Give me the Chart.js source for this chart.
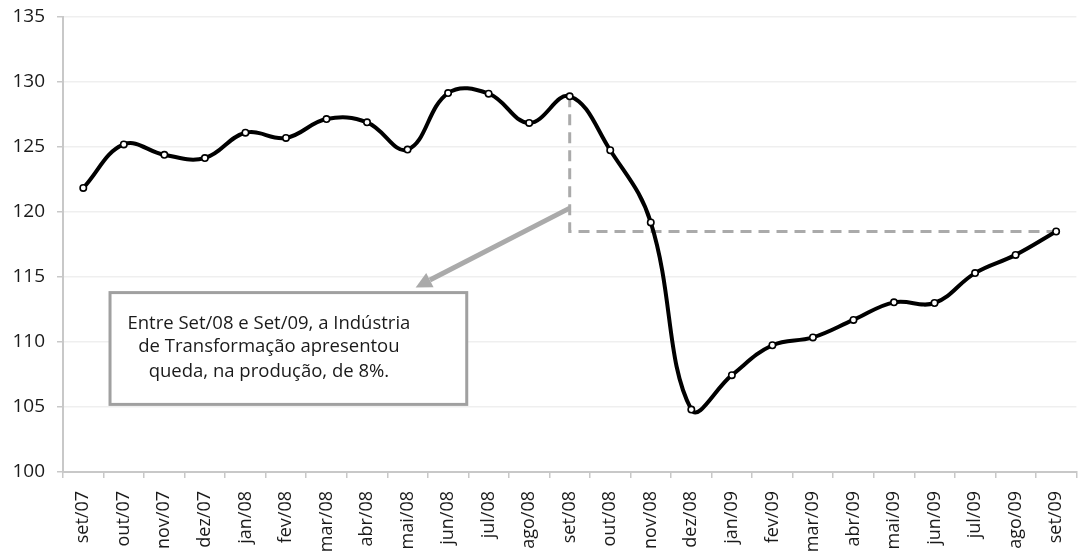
<!DOCTYPE html>
<html>
<head>
<meta charset="utf-8">
<script src="https://cdn.jsdelivr.net/npm/chart.js@4"></script>
<style>
  html, body { margin: 0; padding: 0; background: #fff; overflow: hidden; }
  #wrap { width: 1082px; height: 557px; position: relative; }
</style>
</head>
<body>
<div id="wrap"><canvas id="c"></canvas></div>
<script>
const categories = ['set/07','out/07','nov/07','dez/07','jan/08','fev/08','mar/08','abr/08','mai/08','jun/08','jul/08','ago/08','set/08','out/08','nov/08','dez/08','jan/09','fev/09','mar/09','abr/09','mai/09','jun/09','jul/09','ago/09','set/09'];
const production = [121.85,125.2,124.4,124.15,126.1,125.7,127.15,126.9,124.8,129.15,129.1,126.85,128.9,124.75,119.2,104.8,107.45,109.75,110.35,111.7,113.05,113.0,115.3,116.7,118.5];
const yTicks = [100,105,110,115,120,125,130,135];
const refStart = 'set/08';
const refEnd = 'set/09';
const refHigh = 128.9;
const refLow = 118.5;
const noteLines = ['Entre Set/08 e Set/09, a Indústria', 'de Transformação apresentou', 'queda, na produção, de 8%.'];

const FONT = '"Open Sans", "Noto Sans", sans-serif';

const annotationPlugin = {
  id: 'note',
  afterDatasetsDraw(chart) {
    const ctx = chart.ctx;
    const xs = chart.scales.x, ys = chart.scales.y;
    ctx.save();
    // arrow
    const x1 = xs.getPixelForValue(12), y1 = ys.getPixelForValue(120.3);
    const x2 = xs.getPixelForValue(8.2), y2 = ys.getPixelForValue(114.2);
    const ang = Math.atan2(y2 - y1, x2 - x1);
    const headLen = 16, headW = 8;
    const bx = x2 - Math.cos(ang) * headLen, by = y2 - Math.sin(ang) * headLen;
    ctx.strokeStyle = '#aaaaaa';
    ctx.fillStyle = '#aaaaaa';
    ctx.lineWidth = 5;
    ctx.beginPath();
    ctx.moveTo(x1, y1);
    ctx.lineTo(bx, by);
    ctx.stroke();
    ctx.beginPath();
    ctx.moveTo(x2, y2);
    ctx.lineTo(bx + Math.sin(ang) * headW, by - Math.cos(ang) * headW);
    ctx.lineTo(bx - Math.sin(ang) * headW, by + Math.cos(ang) * headW);
    ctx.closePath();
    ctx.fill();
    // box
    const l = xs.getPixelForValue(0.66), r = xs.getPixelForValue(9.46);
    const t = ys.getPixelForValue(113.8), b = ys.getPixelForValue(105.2);
    ctx.fillStyle = '#ffffff';
    ctx.fillRect(l, t, r - l, b - t);
    ctx.strokeStyle = '#a0a0a0';
    ctx.lineWidth = 3;
    ctx.strokeRect(l, t, r - l, b - t);
    // text
    ctx.fillStyle = '#1a1a1a';
    ctx.font = '18.5px ' + FONT;
    ctx.textAlign = 'center';
    ctx.textBaseline = 'middle';
    const tx = xs.getPixelForValue(4.58);
    const lineVals = [111.4, 109.6, 107.7];
    noteLines.forEach((s, i) => ctx.fillText(s, tx, ys.getPixelForValue(lineVals[i])));
    ctx.restore();
  }
};

new Chart(document.getElementById('c'), {
  type: 'line',
  data: {
    labels: categories,
    datasets: [
      {
        data: production,
        borderColor: '#000000',
        borderWidth: 4,
        tension: 0.4,
        pointRadius: 3.2,
        pointBorderWidth: 1.6,
        pointBackgroundColor: '#ffffff',
        pointBorderColor: '#000000',
        order: 0
      },
      {
        data: [{x: refStart, y: refHigh}, {x: refStart, y: refLow}, {x: refEnd, y: refLow}],
        borderColor: '#aaaaaa',
        borderWidth: 3,
        borderDash: [11, 7],
        tension: 0,
        pointRadius: 0,
        order: 1
      }
    ]
  },
  options: {
    responsive: true,
    maintainAspectRatio: false,
    animation: false,
    events: [],
    layout: { padding: { top: 17, right: 0, left: 0, bottom: 0 } },
    plugins: { legend: { display: false }, tooltip: { enabled: false } },
    scales: {
      x: {
        type: 'category',
        offset: true,
        afterFit(scale) { scale.height = 85; scale.paddingLeft = 0; scale.paddingRight = 0; },
        grid: { offset: true, drawOnChartArea: false, drawTicks: true, tickLength: 6, color: '#c8c8c8', lineWidth: 1.5 },
        border: { color: '#c8c8c8', width: 2 },
        ticks: { minRotation: 90, maxRotation: 90, autoSkip: false, color: '#1a1a1a', font: { family: FONT, size: 18 }, padding: 13 }
      },
      y: {
        min: 100, max: 135,
        afterFit(scale) { scale.width = 63; scale.paddingTop = 0; scale.paddingBottom = 0; },
        afterBuildTicks(scale) { scale.ticks = yTicks.map(v => ({ value: v })); },
        grid: { color: '#efefef', lineWidth: 1.5, tickLength: 6, tickColor: '#c8c8c8' },
        border: { color: '#c8c8c8', width: 2 },
        ticks: { color: '#1a1a1a', font: { family: FONT, size: 19 }, padding: 12 }
      }
    }
  },
  plugins: [annotationPlugin]
});
</script>
</body>
</html>
